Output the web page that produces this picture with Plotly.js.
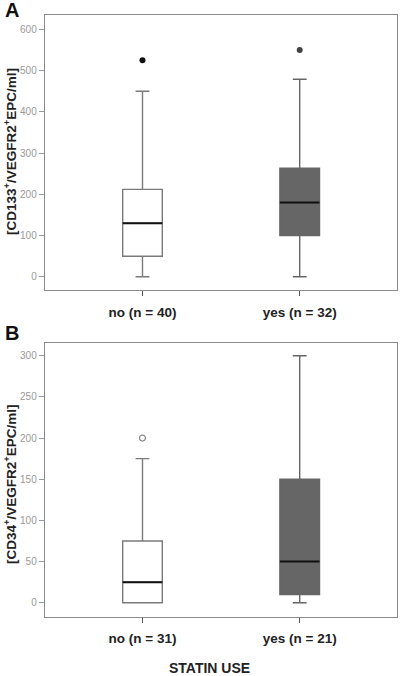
<!DOCTYPE html>
<html>
<head>
<meta charset="utf-8">
<script src="https://cdn.plot.ly/plotly-3.0.1.min.js"></script>
<style>
  html, body { margin: 0; padding: 0; background: #fff; }
  #chart { width: 402px; height: 676px; }
</style>
</head>
<body>
<div id="chart"></div>
<script>
// ---- Data ----
const groupPos = [0, 1];

// Panel A: CD133+/VEGFR2+ EPC/ml
const labelsA = ['no (n = 40)', 'yes (n = 32)'];
const lowA = [0, 0];
const q1A = [50, 100];
const medA = [130, 180];
const q3A = [212, 263];
const upA = [450, 479];
const outA = [525, 550];

// Panel B: CD34+/VEGFR2+ EPC/ml
const labelsB = ['no (n = 31)', 'yes (n = 21)'];
const lowB = [0, 0];
const q1B = [0, 10];
const medB = [25, 50];
const q3B = [75, 150];
const upB = [175, 300];
const outB = [200, null];

const tickValsA = [0, 100, 200, 300, 400, 500, 600];
const tickValsB = [0, 50, 100, 150, 200, 250, 300];

// ---- Styles ----
const boxW = 0.252;
const fills = ['#ffffff', '#666666'];
const lines = ['#7a7a7a', '#666666'];
const outA_style = [
  {color: '#111111', size: 6, symbol: 'circle'},
  {color: '#444444', size: 6, symbol: 'circle'}
];
const outB_style = {color: '#888888', size: 6, symbol: 'circle-open', line: {width: 1.2}};
const FONT = 'Liberation Sans, Arial, Helvetica, sans-serif';

const traces = [];
const shapes = [];

function addPanel(xa, ya, low, q1, med, q3, up, outs, outStyle) {
  groupPos.forEach((p, i) => {
    traces.push({
      type: 'box',
      x: [p],
      lowerfence: [low[i]], q1: [q1[i]], median: [med[i]], q3: [q3[i]], upperfence: [up[i]],
      width: boxW,
      whiskerwidth: 0.35,
      fillcolor: fills[i],
      line: {color: lines[i], width: 1.4},
      boxpoints: false,
      hoverinfo: 'skip',
      showlegend: false,
      xaxis: xa, yaxis: ya
    });
    // black median line
    shapes.push({
      type: 'line', xref: xa, yref: ya,
      x0: p - boxW / 2, x1: p + boxW / 2, y0: med[i], y1: med[i],
      line: {color: '#111111', width: 2}
    });
    if (outs[i] !== null) {
      const st = Array.isArray(outStyle) ? outStyle[i] : outStyle;
      traces.push({
        type: 'scatter', mode: 'markers',
        x: [p], y: [outs[i]],
        marker: st,
        hoverinfo: 'skip', showlegend: false,
        xaxis: xa, yaxis: ya
      });
    }
  });
}

addPanel('x', 'y', lowA, q1A, medA, q3A, upA, outA, outA_style);
addPanel('x2', 'y2', lowB, q1B, medB, q3B, upB, outB, outB_style);

const xCommon = {
  range: [-0.62, 1.62],
  tickmode: 'array',
  tickvals: groupPos,
  showline: true, mirror: true, linecolor: '#8a8a8a', linewidth: 1.3,
  ticks: 'outside', ticklen: 5, tickcolor: '#555', tickwidth: 1,
  ticklabelstandoff: 4,
  tickfont: {family: FONT, size: 13.5, color: '#222', weight: 'bold'},
  showgrid: false, zeroline: false,
  domain: [0.112, 0.988]
};
const yCommon = {
  tickmode: 'array',
  showline: true, mirror: true, linecolor: '#8a8a8a', linewidth: 1.3,
  ticks: 'outside', ticklen: 5, tickcolor: '#999', tickwidth: 1,
  tickfont: {family: FONT, size: 10, color: '#999'},
  showgrid: false, zeroline: false
};

const layout = {
  width: 402, height: 676,
  margin: {l: 0, r: 0, t: 0, b: 0},
  paper_bgcolor: '#fff', plot_bgcolor: '#fff',
  showlegend: false,
  xaxis: Object.assign({}, xCommon, {anchor: 'y', ticktext: labelsA}),
  yaxis: Object.assign({}, yCommon, {anchor: 'x', domain: [0.571, 0.978], range: [-32, 635], tickvals: tickValsA}),
  xaxis2: Object.assign({}, xCommon, {anchor: 'y2', ticktext: labelsB}),
  yaxis2: Object.assign({}, yCommon, {anchor: 'x2', domain: [0.0877, 0.492], range: [-17, 315], tickvals: tickValsB}),
  shapes: shapes,
  annotations: [
    {text: 'A', xref: 'paper', yref: 'paper', x: 12 / 402, y: 1 - 10 / 676, xanchor: 'center', yanchor: 'middle',
     showarrow: false, font: {family: FONT, size: 20, color: '#111', weight: 'bold'}},
    {text: 'B', xref: 'paper', yref: 'paper', x: 12 / 402, y: 1 - 333 / 676, xanchor: 'center', yanchor: 'middle',
     showarrow: false, font: {family: FONT, size: 20, color: '#111', weight: 'bold'}},
    {text: '[CD133<sup>+</sup>/VEGFR2<sup>+</sup>EPC/ml]', xref: 'paper', yref: 'paper',
     x: 10 / 402, y: 1 - 152 / 676, textangle: -90, xanchor: 'center', yanchor: 'middle',
     showarrow: false, font: {family: FONT, size: 13.5, color: '#222', weight: 'bold'}},
    {text: '[CD34<sup>+</sup>/VEGFR2<sup>+</sup>EPC/ml]', xref: 'paper', yref: 'paper',
     x: 10 / 402, y: 1 - 484 / 676, textangle: -90, xanchor: 'center', yanchor: 'middle',
     showarrow: false, font: {family: FONT, size: 13.5, color: '#222', weight: 'bold'}},
    {text: 'STATIN USE', xref: 'paper', yref: 'paper', x: 210 / 402, y: 1 - 668 / 676,
     xanchor: 'center', yanchor: 'middle', showarrow: false,
     font: {family: FONT, size: 14, color: '#222', weight: 'bold'}}
  ]
};

Plotly.newPlot('chart', traces, layout, {displayModeBar: false, staticPlot: true});
</script>
</body>
</html>
